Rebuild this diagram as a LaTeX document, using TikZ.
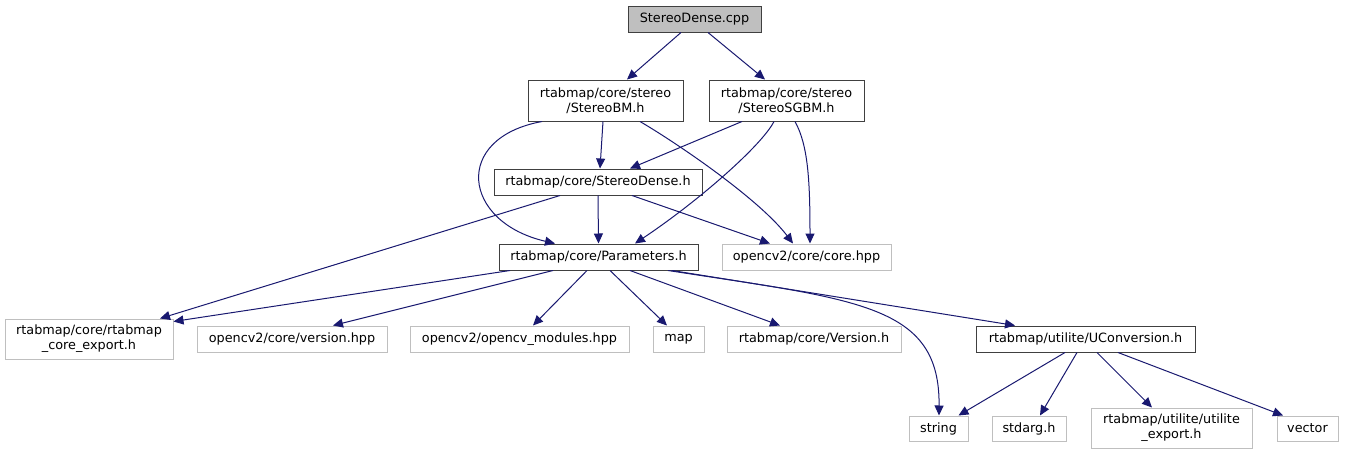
\documentclass[tikz,border=0pt]{standalone}
\usepackage{fontspec}
\setmainfont{DejaVu Sans}
\usetikzlibrary{arrows.meta}
\definecolor{edgecol}{RGB}{25,25,112}
\definecolor{lgray}{RGB}{191,191,191}
\definecolor{dgray}{RGB}{64,64,64}
\begin{document}
\begin{tikzpicture}[x=1pt,y=-1pt,
  box/.style={draw=dgray, line width=1pt, inner sep=0pt, align=center,
    font=\fontsize{12.8}{15}\selectfont, minimum height=26pt},
  ext/.style={box, draw=lgray},
  root/.style={box, fill=lgray},
  edge/.style={draw=edgecol, line width=1pt, -{Triangle[length=10pt,width=9pt]}}]
\useasboundingbox (0,0) rectangle (1345,455);
\fill[white] (0,0) rectangle (1345,455);
% nodes
\node[root, minimum width=133pt] (cpp) at (694.5,19) {StereoDense.cpp};
\node[box, minimum width=155pt, minimum height=41pt] (bm) at (605.5,100.5) {rtabmap/core/stereo\\/StereoBM.h};
\node[box, minimum width=155pt, minimum height=41pt] (sgbm) at (786.5,100.5) {rtabmap/core/stereo\\/StereoSGBM.h};
\node[box, minimum width=208pt] (sd) at (598,182) {rtabmap/core/StereoDense.h};
\node[box, minimum width=199pt] (par) at (598.5,257) {rtabmap/core/Parameters.h};
\node[ext, minimum width=169pt] (core) at (806.5,257) {opencv2/core/core.hpp};
\node[ext, minimum width=168pt, minimum height=40pt] (exp) at (89,339) {rtabmap/core/rtabmap\\\_core\_export.h};
\node[ext, minimum width=190pt] (ver) at (292,339) {opencv2/core/version.hpp};
\node[ext, minimum width=219pt] (mods) at (519.5,339) {opencv2/opencv\_modules.hpp};
\node[ext, minimum width=51pt] (map) at (678.5,339) {map};
\node[ext, minimum width=174pt] (vh) at (814,339) {rtabmap/core/Version.h};
\node[box, minimum width=219pt] (uconv) at (1085.5,339) {rtabmap/utilite/UConversion.h};
\node[ext, minimum width=59pt, minimum height=25pt] (str) at (938.5,428.5) {string};
\node[ext, minimum width=74pt, minimum height=25pt] (stdarg) at (1029,428.5) {stdarg.h};
\node[ext, minimum width=161pt, minimum height=40pt] (uexp) at (1171.5,428) {rtabmap/utilite/utilite\\\_export.h};
\node[ext, minimum width=61pt, minimum height=25pt] (vec) at (1307.5,428.5) {vector};
% edges
\draw[edge] ([xshift=-13.5pt]cpp.south) -- ([xshift=21.5pt]bm.north);
\draw[edge] ([xshift=13.5pt]cpp.south) -- ([xshift=-21.5pt]sgbm.north);
\draw[edge] ([xshift=-2.5pt]bm.south) -- ([xshift=2pt]sd.north);
\draw[edge] ([xshift=-63.5pt]bm.south) .. controls (452,138) and (462,222) .. ([xshift=-43.5pt]par.north);
\draw[edge] ([xshift=34.5pt]bm.south) .. controls (680,145) and (760,200) .. ([xshift=-13.5pt]core.north);
\draw[edge] ([xshift=-44.5pt]sgbm.south) -- ([xshift=32pt]sd.north);
\draw[edge] ([xshift=-12.5pt]sgbm.south) .. controls (762,145) and (700,200) .. ([xshift=36.5pt]par.north);
\draw[edge] ([xshift=8.5pt]sgbm.south) .. controls (808,145) and (810,180) .. ([xshift=3.5pt]core.north);
\draw[edge] ([xshift=-38pt]sd.south) -- ([xshift=71pt]exp.north);
\draw[edge] (sd.south) -- (par.north);
\draw[edge] ([xshift=34pt]sd.south) -- ([xshift=-36.5pt]core.north);
\draw[edge] ([xshift=-88.5pt]par.south) -- ([yshift=-3pt]exp.north east);
\draw[edge] ([xshift=-45.5pt]par.south) -- ([xshift=41pt]ver.north);
\draw[edge] ([xshift=-11.5pt]par.south) -- ([xshift=13.5pt]mods.north);
\draw[edge] ([xshift=11.5pt]par.south) -- ([xshift=-11.5pt]map.north);
\draw[edge] ([xshift=31.5pt]par.south) -- ([xshift=-34pt]vh.north);
\draw[edge] ([xshift=69.5pt]par.south) .. controls (860,300) and (940,305) .. ([xshift=0.5pt]str.north);
\draw[edge] ([xshift=73.5pt]par.south) -- ([xshift=-70.5pt]uconv.north);
\draw[edge] ([xshift=-20.5pt]uconv.south) -- ([xshift=20pt]str.north);
\draw[edge] ([xshift=-8.5pt]uconv.south) -- ([xshift=11pt]stdarg.north);
\draw[edge] ([xshift=11.5pt]uconv.south) -- ([xshift=-19.5pt]uexp.north);
\draw[edge] ([xshift=32.5pt]uconv.south) -- ([xshift=-24.5pt]vec.north);
\end{tikzpicture}
\end{document}
